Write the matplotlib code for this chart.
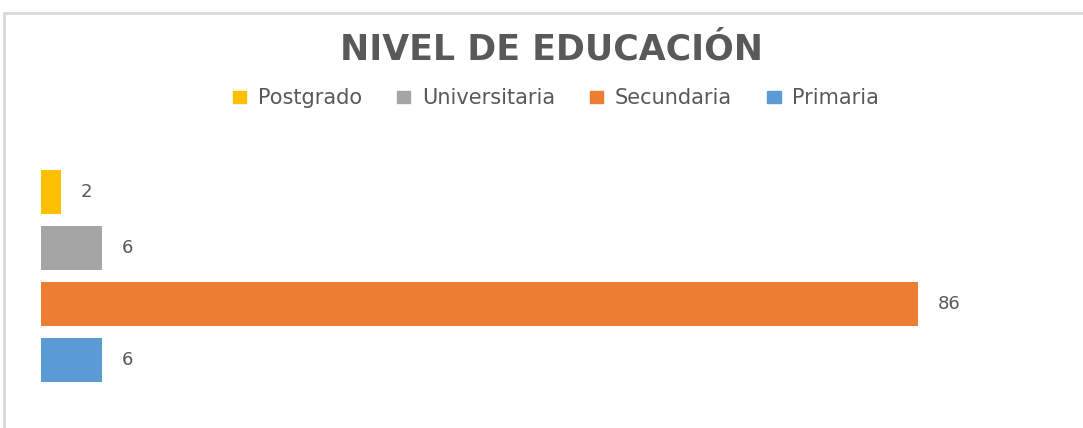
import matplotlib
matplotlib.use("Agg")
import matplotlib.pyplot as plt
from matplotlib.patches import Rectangle, Patch

categories = ["Primaria", "Secundaria", "Universitaria", "Postgrado"]
values = [6, 86, 6, 2]
colors = ["#5B9BD5", "#ED7D31", "#A5A5A5", "#FFC000"]
title = "NIVEL DE EDUCACIÓN"

plt.rcParams['font.family'] = ['DejaVu Sans']
W, H = 1083, 428
fig = plt.figure(figsize=(W/100, H/100), dpi=100)

# outer chart frame
fig.patches.append(Rectangle((4/W, -0.1), 1.5, (H - 13)/H + 0.1, transform=fig.transFigure,
                             fill=False, edgecolor="#D9D9D9", linewidth=2))

# axes: x from pixel 41 to 1061 (0..100), y from 418 to 142
ax = fig.add_axes([41/W, (H-418)/H, 1020/W, 276/H])
ypos = list(range(len(categories)))
ax.barh(ypos, values, height=0.786, color=colors)
ax.set_xlim(0, 100)
ax.set_ylim(-(418-360)/56, (360-142)/56)
ax.axis("off")
for y, v in zip(ypos, values):
    ax.annotate(str(v), (v, y), xytext=(14, 0), textcoords="offset points",
                ha="left", va="center", fontsize=13, color="#595959")

fig.text(551/W, 1 - 60/H, title, ha="center", va="baseline", fontsize=25,
         fontweight="bold", color="#595959")

handles = [Patch(color=c, label=l) for c, l in zip(colors[::-1], categories[::-1])]
fig.legend(handles=handles, loc="center", bbox_to_anchor=(556/W, 1 - 98/H), ncol=4,
           frameon=False, fontsize=15, labelcolor="#595959", handlelength=0.63,
           handleheight=0.5, handletextpad=0.55, columnspacing=1.7)

fig.savefig("out.png", dpi=100)
